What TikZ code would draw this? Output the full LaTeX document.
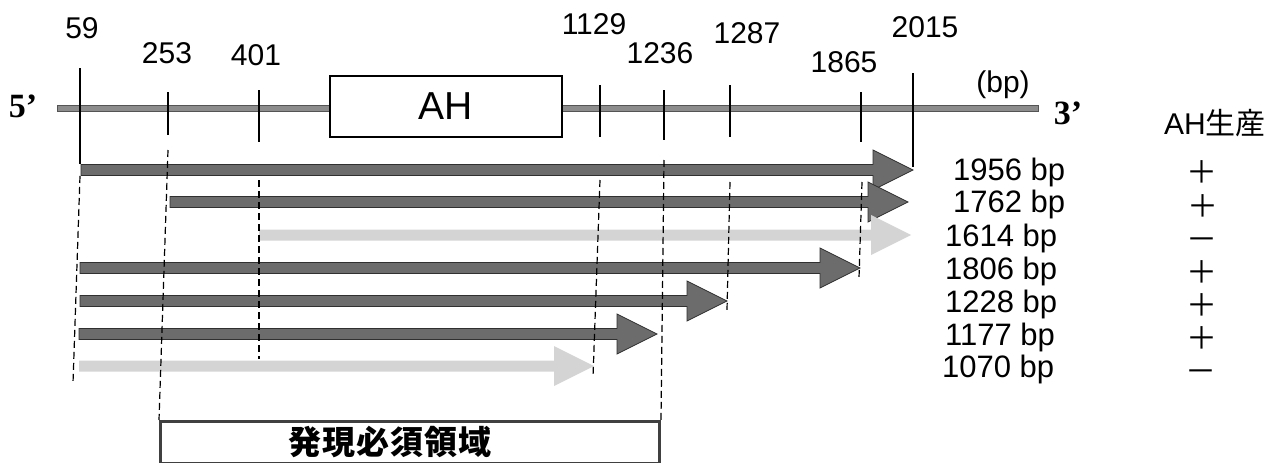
\documentclass[tikz,border=0pt]{standalone}
\usepackage{fontspec}
\setmainfont{Liberation Sans}
\newfontfamily\cjk{Noto Sans CJK JP}
\newfontfamily\primefont{Liberation Serif}
\definecolor{bar}{HTML}{6C6C6C}
\definecolor{barline}{HTML}{303030}
\definecolor{lightbar}{HTML}{D4D4D4}
\definecolor{genome}{HTML}{8C8C8C}
\newcommand\fragarrow[4]{%
  \path[#1] (#2,#4-5.5) -- (#3-40,#4-5.5) -- (#3-40,#4-20) -- (#3,#4)
    -- (#3-40,#4+20) -- (#3-40,#4+5.5) -- (#2,#4+5.5) -- cycle;}
\begin{document}
\begin{tikzpicture}[x=1pt,y=-1pt,
  num/.style={font=\fontsize{30}{32}\selectfont, inner sep=0pt},
  bplab/.style={font=\fontsize{31}{33}\selectfont, inner sep=0pt, anchor=west},
  sign/.style={font=\cjk\fontsize{31}{33}\selectfont, inner sep=0pt,
               text height=0.74em, text depth=0.02em, yshift=-7pt},
  prime/.style={font=\primefont\bfseries\fontsize{34}{36}\selectfont, inner sep=0pt},
  tickmark/.style={line width=1.4pt, black},
  guide/.style={line width=1.2pt, black, dash pattern=on 7pt off 4pt},
  darkfrag/.style={fill=bar, draw=barline, line width=0.8pt},
  lightfrag/.style={fill=lightbar}]
\useasboundingbox (0,0) rectangle (1272,463);

% genome line
\path[fill=genome, draw=genome!60!black, line width=0.6pt] (57,105) rectangle (1038,111);
\node[draw=black, line width=1.2pt, fill=white, minimum width=232pt, minimum height=61pt, inner sep=0pt,
      font=\fontsize{39}{41}\selectfont] (ah) at (446,106.5) {AH};

\node[prime] (five) at (23,106) {5’};
\node[prime] (three) at (1068,113) {3’};
\node[num] (bpunit) at (1003,85) {(bp)};

% position labels
\node[num] (l59) at (82,28) {59};
\node[num] (l253) at (167,53) {253};
\node[num] (l401) at (256,55) {401};
\node[num] (l1129) at (594,24) {1129};
\node[num] (l1236) at (660,53) {1236};
\node[num] (l1287) at (747,33) {1287};
\node[num] (l1865) at (844,62) {1865};
\node[num] (l2015) at (925,27) {2015};

% ticks
\coordinate (t59a) at (80,68);   \coordinate (t59b) at (80,164);
\coordinate (t253a) at (168,92); \coordinate (t253b) at (168,135);
\coordinate (t401a) at (259,90); \coordinate (t401b) at (259,142);
\coordinate (t1129a) at (600,85); \coordinate (t1129b) at (600,137);
\coordinate (t1236a) at (664,90); \coordinate (t1236b) at (664,140);
\coordinate (t1287a) at (730,85); \coordinate (t1287b) at (730,137);
\coordinate (t1865a) at (861,92); \coordinate (t1865b) at (861,142);
\coordinate (t2015a) at (913,73); \coordinate (t2015b) at (913,167);
\foreach \p in {59,253,401,1129,1236,1287,1865,2015}
  \draw[tickmark] (t\p a) -- (t\p b);

% fragments
\fragarrow{darkfrag}{81}{913}{170}
\fragarrow{darkfrag}{170}{908}{202}
\fragarrow{lightfrag}{259}{911}{235}
\fragarrow{darkfrag}{80}{860}{268}
\fragarrow{darkfrag}{80}{727}{301}
\fragarrow{darkfrag}{79}{657}{334}
\fragarrow{lightfrag}{79}{594}{366}

% required region box
\node[draw=black!75, line width=3pt, minimum width=499pt, minimum height=42pt, inner sep=0pt,
      anchor=north west] (region) at (159,420) {};
\node[font=\cjk\bfseries\fontsize{33}{35}\selectfont, inner sep=0pt] (regionlab) at (390,442)
  {発\hspace{1pt}現\hspace{1pt}必\hspace{1pt}須\hspace{1pt}領\hspace{1pt}域};

% guide lines
\coordinate (g59a) at (80,176);    \coordinate (g59b) at (73,383);
\coordinate (g253a) at (168,150);  \coordinate (g253b) at (region.north west);
\coordinate (g401a) at (259,180);  \coordinate (g401b) at (259,359);
\coordinate (g1129a) at (600,180); \coordinate (g1129b) at (593,377);
\coordinate (g1236a) at (664,160); \coordinate (g1236b) at (region.north east);
\coordinate (g1287a) at (730,182); \coordinate (g1287b) at (727,310);
\coordinate (g1865a) at (862,182); \coordinate (g1865b) at (859,278);
\foreach \p in {59,253,401,1129,1236,1287,1865}
  \draw[guide] (g\p a) -- (g\p b);

% size labels
\node[bplab] (s1) at (953,172) {1956 bp};
\node[bplab] (s2) at (953,204) {1762 bp};
\node[bplab] (s3) at (945,238) {1614 bp};
\node[bplab] (s4) at (945,271) {1806 bp};
\node[bplab] (s5) at (945,304) {1228 bp};
\node[bplab] (s6) at (945,337) {1177 bp};
\node[bplab] (s7) at (942,369) {1070 bp};

% AH production
\node[font=\fontsize{30}{32}\selectfont, inner sep=0pt] (prod) at (1215,123) {AH{\cjk 生産}};
\node[sign] (r1) at (1202,173) {＋};
\node[sign] (r2) at (1203,207) {＋};
\node[sign] (r3) at (1202,240) {－};
\node[sign] (r4) at (1202,273) {＋};
\node[sign] (r5) at (1202,306) {＋};
\node[sign] (r6) at (1202,339) {＋};
\node[sign] (r7) at (1201,372) {－};
\end{tikzpicture}
\end{document}
